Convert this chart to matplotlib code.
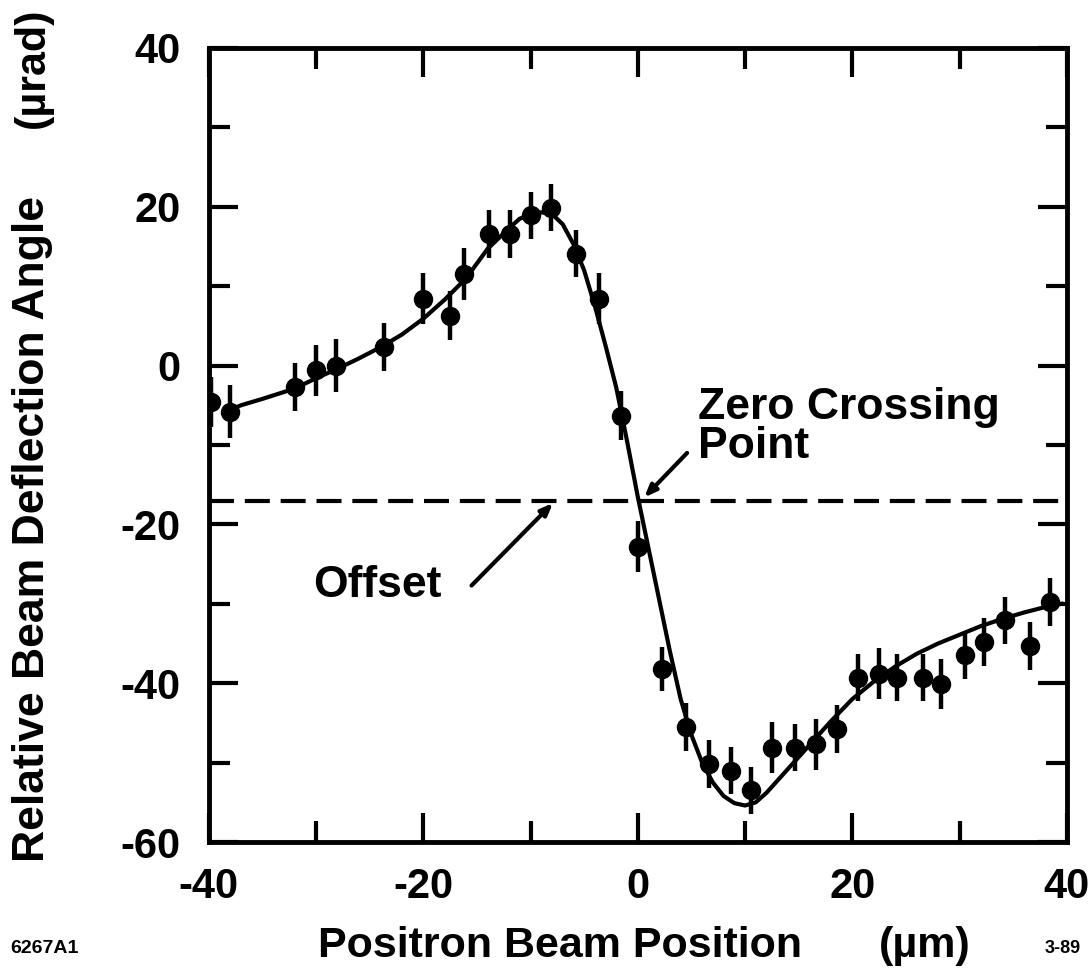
import matplotlib
matplotlib.use('Agg')
import matplotlib.pyplot as plt

plt.rcParams['font.family'] = ['Liberation Sans', 'DejaVu Sans']
plt.rcParams['font.weight'] = 'bold'
plt.rcParams['axes.unicode_minus'] = False

# measured points (positron beam position in um, deflection in urad)
pos = [-39.8, -38.0, -32.0, -30.0, -28.1, -23.7, -20.0, -17.5, -16.2, -13.9,
       -11.9, -10.0, -8.1, -5.8, -3.6, -1.6, 0.0, 2.3, 4.5, 6.6,
       8.7, 10.6, 12.5, 14.7, 16.6, 18.6, 20.5, 22.5, 24.2, 26.6,
       28.3, 30.5, 32.3, 34.2, 36.6, 38.4]
angle = [-4.6, -5.8, -2.7, -0.6, 0.0, 2.3, 8.4, 6.3, 11.5, 16.6,
         16.6, 18.9, 19.9, 14.1, 8.4, -6.3, -22.8, -38.2, -45.5, -50.2,
         -51.0, -53.5, -48.1, -48.1, -47.7, -45.8, -39.3, -38.8, -39.3, -39.3,
         -40.1, -36.5, -34.8, -32.1, -35.3, -29.8]
err = [3.1, 3.3, 3.0, 3.2, 3.3, 3.0, 3.2, 3.1, 3.3, 3.0,
       3.0, 2.9, 3.0, 3.0, 3.2, 3.1, 3.2, 2.8, 3.0, 3.0,
       3.0, 3.0, 3.2, 3.0, 3.2, 3.0, 3.0, 3.2, 3.0, 3.0,
       3.2, 3.0, 3.0, 3.0, 3.0, 3.0]

# fitted curve
fit_x = [-38.5, -37, -35, -32, -30, -28, -26, -24, -22, -20, -18, -16, -14,
         -12, -11, -10, -9, -8, -7, -6, -5, -4, -3, -2, -1, 0, 1, 2, 3, 4,
         5, 6, 7, 8, 9, 10, 11, 12, 14, 16, 18, 20, 22, 24, 26, 28, 30, 32,
         34, 36, 38, 39.5]
fit_y = [-5.9, -5.0, -4.2, -2.9, -1.6, -0.4, 0.9, 2.3, 3.9, 5.9, 8.3, 11.0,
         14.7, 17.3, 18.5, 19.0, 19.3, 19.1, 17.8, 15.3, 12.0, 7.5, 2.5, -2.8,
         -9.5, -16.5, -23.0, -29.5, -36.0, -42.0, -46.5, -50.0, -52.5, -54.2,
         -55.1, -55.4, -55.0, -53.8, -50.8, -47.8, -44.8, -42.0, -39.8, -37.9,
         -36.3, -35.0, -33.9, -32.8, -31.9, -31.1, -30.4, -30.0]

offset = -17.0

fig = plt.figure(figsize=(10.9, 9.72), dpi=100)
ax = fig.add_axes([0.1915, 0.1337, 0.7872, 0.817])

ax.plot(fit_x, fit_y, color='black', lw=3)
ax.errorbar(pos, angle, yerr=err, fmt='o', color='black', ms=13,
            elinewidth=3.2, capsize=0)
ax.axhline(offset, color='black', lw=3, dashes=(6, 2.6))

ax.set_xlim(-40, 40)
ax.set_ylim(-60, 40)
ax.set_xticks([-40, -20, 0, 20, 40])
ax.set_xticks(range(-40, 41, 10), minor=True)
ax.set_yticks([-60, -40, -20, 0, 20, 40])
ax.set_yticks(range(-60, 41, 10), minor=True)
ax.tick_params(which='both', direction='in', top=True, right=True,
               width=3, labelsize=30)
ax.tick_params(which='major', length=21)
ax.tick_params(which='minor', length=15)
ax.tick_params(axis='y', pad=20)
ax.tick_params(axis='x', pad=18)
for s in ax.spines.values():
    s.set_linewidth(3.5)

arrow = dict(arrowstyle='-|>,head_length=0.7,head_width=0.28',
             color='black', lw=3, shrinkA=0, shrinkB=0)
ax.annotate('', xy=(-7.9, -17.3), xytext=(-15.5, -27.7), arrowprops=arrow)
ax.text(-24.3, -27.7, 'Offset', fontsize=32, fontweight='bold',
        ha='center', va='center')
ax.annotate('', xy=(0.6, -16.6), xytext=(4.6, -11.0), arrowprops=arrow)
ax.text(5.6, -7.7, 'Zero Crossing\nPoint', fontsize=32, fontweight='bold',
        ha='left', va='center', linespacing=0.95)

fig.text(0.03, 0.113, 'Relative Beam Deflection Angle', rotation=90,
         fontsize=32, fontweight='bold', ha='center', va='bottom')
fig.text(0.03, 0.93, '(µrad)', rotation=90,
         fontsize=31, fontweight='bold', ha='center', va='center')
fig.text(0.292, 0.015, 'Positron Beam Position', fontsize=31,
         fontweight='bold', ha='left', va='baseline')
fig.text(0.806, 0.015, '(µm)', fontsize=31, fontweight='bold',
         ha='left', va='baseline')
fig.text(0.009, 0.02, '6267A1', fontsize=14, fontweight='bold')
fig.text(0.958, 0.02, '3-89', fontsize=13, fontweight='bold')

fig.savefig('out.png', dpi=100)
